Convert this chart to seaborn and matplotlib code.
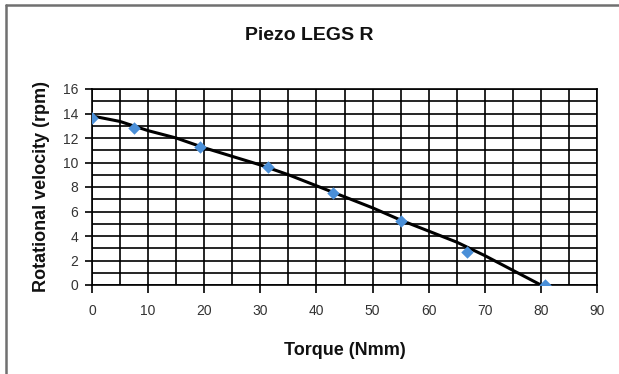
import matplotlib
matplotlib.use("Agg")
import matplotlib.pyplot as plt
import seaborn as sns
import numpy as np
import pandas as pd
from matplotlib.lines import Line2D

# Measured data points
torque = [0, 7.5, 19.3, 31.3, 43.0, 55.0, 66.8, 80.8]
velocity = [13.6, 12.8, 11.3, 9.6, 7.5, 5.2, 2.7, 0.0]

# Trend line
trend_x = [0, 5, 10, 15, 20, 25, 30, 35, 40, 45, 50, 55, 60, 65, 70, 75, 80]
trend_y = [13.8, 13.35, 12.6, 12.0, 11.2, 10.5, 9.8, 9.0, 8.1, 7.2, 6.3, 5.3, 4.4, 3.5, 2.4, 1.2, 0.0]

title = "Piezo LEGS R"
xlabel = "Torque (Nmm)"
ylabel = "Rotational velocity (rpm)"

sns.set_theme(style="white")
plt.rcParams['font.family'] = ['Liberation Sans', 'DejaVu Sans']

fig = plt.figure(figsize=(6.19, 3.74), dpi=100)
ax = fig.add_axes([92/619, 1-285/374, (597-92)/619, (285-89)/374])

df_pts = pd.DataFrame({"x": torque, "y": velocity})
df_line = pd.DataFrame({"x": trend_x, "y": trend_y})

sns.lineplot(data=df_line, x="x", y="y", ax=ax, color="black", linewidth=2.2, zorder=3)
sns.scatterplot(data=df_pts, x="x", y="y", ax=ax, marker="D", color="#4a8fd8",
                s=40, edgecolor="#4a8fd8", linewidth=0, zorder=4)

ax.set_xlim(0, 90)
ax.set_ylim(0, 16)
ax.set_xticks(np.arange(0, 91, 10))
ax.set_yticks(np.arange(0, 17, 2))
ax.set_xticks(np.arange(0, 91, 5), minor=True)
ax.set_yticks(np.arange(0, 17, 1), minor=True)
ax.grid(which="both", color="black", linewidth=1.2)
ax.tick_params(axis="x", which="major", direction="out", length=6, width=1.2, color="black",
               labelsize=10, labelcolor="#333333", pad=8, bottom=True)
ax.tick_params(axis="y", which="major", direction="out", length=5, width=1.2, color="black",
               labelsize=10, labelcolor="#333333", pad=5, left=True)
ax.tick_params(which="minor", length=0)
for s in ax.spines.values():
    s.set_color("black")
    s.set_linewidth(1.2)

ax.set_xlabel(xlabel, fontsize=13, fontweight="bold", color="#111111", labelpad=17)
ax.set_ylabel(ylabel, fontsize=13, fontweight="bold", color="#111111", labelpad=9)
fig.text(0.5, 1-35/374, title, ha="center", va="center", fontsize=14,
         fontweight="bold", color="#111111")

# outer frame (left and top edges visible in the reference)
fig.lines.append(Line2D([6/619, 6/619], [0, 1-5/374], transform=fig.transFigure,
                        color="#707070", linewidth=1.8))
fig.lines.append(Line2D([6/619, 1], [1-5/374, 1-5/374], transform=fig.transFigure,
                        color="#707070", linewidth=1.8))

fig.savefig("out.png", dpi=100)
